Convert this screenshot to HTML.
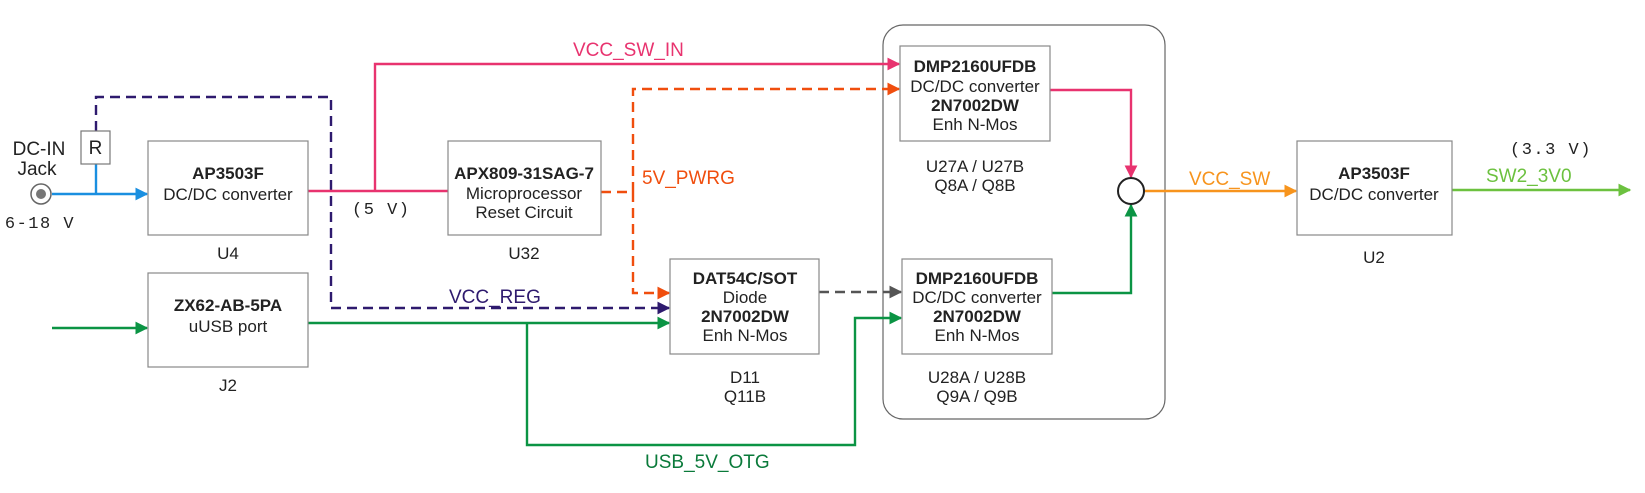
<!DOCTYPE html>
<html><head><meta charset="utf-8"><style>
html,body{margin:0;padding:0;background:#fff;}
svg{display:block;font-family:"Liberation Sans",sans-serif;}
.b{font-weight:bold;}
text{font-size:17px;fill:#222;}
.m{font-family:"Liberation Mono",monospace;font-size:17px;letter-spacing:1.5px;}
.l{font-size:19px;}
</style></head><body>
<svg width="1645" height="493" viewBox="0 0 1645 493" xmlns="http://www.w3.org/2000/svg">
<defs>
<marker id="ab" viewBox="0 0 10 10" refX="9" refY="5" markerWidth="13" markerHeight="13" markerUnits="userSpaceOnUse" orient="auto"><path d="M0,0L10,5L0,10z" fill="#1a8fe0"/></marker>
<marker id="ag" viewBox="0 0 10 10" refX="9" refY="5" markerWidth="13" markerHeight="13" markerUnits="userSpaceOnUse" orient="auto"><path d="M0,0L10,5L0,10z" fill="#0b9444"/></marker>
<marker id="ap" viewBox="0 0 10 10" refX="9" refY="5" markerWidth="13" markerHeight="13" markerUnits="userSpaceOnUse" orient="auto"><path d="M0,0L10,5L0,10z" fill="#e8336f"/></marker>
<marker id="ao" viewBox="0 0 10 10" refX="9" refY="5" markerWidth="13" markerHeight="13" markerUnits="userSpaceOnUse" orient="auto"><path d="M0,0L10,5L0,10z" fill="#f04e0e"/></marker>
<marker id="av" viewBox="0 0 10 10" refX="9" refY="5" markerWidth="13" markerHeight="13" markerUnits="userSpaceOnUse" orient="auto"><path d="M0,0L10,5L0,10z" fill="#2e1a6e"/></marker>
<marker id="ay" viewBox="0 0 10 10" refX="9" refY="5" markerWidth="13" markerHeight="13" markerUnits="userSpaceOnUse" orient="auto"><path d="M0,0L10,5L0,10z" fill="#555"/></marker>
<marker id="aw" viewBox="0 0 10 10" refX="9" refY="5" markerWidth="13" markerHeight="13" markerUnits="userSpaceOnUse" orient="auto"><path d="M0,0L10,5L0,10z" fill="#f7941d"/></marker>
<marker id="al" viewBox="0 0 10 10" refX="9" refY="5" markerWidth="13" markerHeight="13" markerUnits="userSpaceOnUse" orient="auto"><path d="M0,0L10,5L0,10z" fill="#6cc13f"/></marker>
</defs>

<rect x="883" y="25" width="282" height="394" rx="20" fill="none" stroke="#666" stroke-width="1.2"/>

<g fill="none" stroke-width="2.4">
<path d="M52,194H147" stroke="#1a8fe0" marker-end="url(#ab)"/>
<path d="M96,194V164" stroke="#1a8fe0"/>
<path d="M96,131V97H331V308H669" stroke="#2e1a6e" stroke-dasharray="10,6" marker-end="url(#av)"/>
<path d="M52,328H147" stroke="#0b9444" marker-end="url(#ag)"/>
<path d="M308,323H669" stroke="#0b9444" marker-end="url(#ag)"/>
<path d="M527,323V445H855V318H901" stroke="#0b9444" marker-end="url(#ag)"/>
<path d="M308,191H448" stroke="#e8336f"/>
<path d="M375,191V64H899" stroke="#e8336f" marker-end="url(#ap)"/>
<path d="M601,192H633V89H899" stroke="#f04e0e" stroke-dasharray="10,6" marker-end="url(#ao)"/>
<path d="M633,192V293H669" stroke="#f04e0e" stroke-dasharray="10,6" marker-end="url(#ao)"/>
<path d="M819,292H901" stroke="#555" stroke-dasharray="10,6" marker-end="url(#ay)"/>
<path d="M1050,90H1131V177" stroke="#e8336f" marker-end="url(#ap)"/>
<path d="M1052,293H1131V205" stroke="#0b9444" marker-end="url(#ag)"/>
<path d="M1144,191H1296" stroke="#f7941d" marker-end="url(#aw)"/>
<path d="M1452,190H1630" stroke="#6cc13f" marker-end="url(#al)"/>
</g>

<circle cx="41" cy="194" r="10" fill="#fff" stroke="#666" stroke-width="1.5"/>
<circle cx="41" cy="194" r="5" fill="#777"/>
<text x="39" y="155" text-anchor="middle" class="l">DC-IN</text>
<text x="37" y="175" text-anchor="middle" class="l">Jack</text>
<text x="40" y="228" text-anchor="middle" class="m">6-18 V</text>
<rect x="81" y="131" width="29" height="33" fill="#fff" stroke="#777" stroke-width="1.2"/>
<text x="95.5" y="154" text-anchor="middle" class="l">R</text>

<circle cx="1131" cy="191" r="13" fill="#fff" stroke="#222" stroke-width="2"/>

<g fill="#fff" stroke="#888" stroke-width="1.2">
<rect x="148" y="141" width="160" height="94"/>
<rect x="148" y="273" width="160" height="94"/>
<rect x="448" y="141" width="153" height="94"/>
<rect x="670" y="259" width="149" height="95"/>
<rect x="900" y="46" width="150" height="95"/>
<rect x="902" y="259" width="150" height="95"/>
<rect x="1297" y="141" width="155" height="94"/>
</g>

<g text-anchor="middle">
<text x="228" y="179" class="b">AP3503F</text>
<text x="228" y="200">DC/DC converter</text>
<text x="228" y="259">U4</text>
<text x="228" y="311" class="b">ZX62-AB-5PA</text>
<text x="228" y="332">uUSB port</text>
<text x="228" y="391">J2</text>
<text x="524" y="179" class="b">APX809-31SAG-7</text>
<text x="524" y="199">Microprocessor</text>
<text x="524" y="218">Reset Circuit</text>
<text x="524" y="259">U32</text>
<text x="745" y="284" class="b">DAT54C/SOT</text>
<text x="745" y="303">Diode</text>
<text x="745" y="322" class="b">2N7002DW</text>
<text x="745" y="341">Enh N-Mos</text>
<text x="745" y="383">D11</text>
<text x="745" y="402">Q11B</text>
<text x="975" y="72" class="b">DMP2160UFDB</text>
<text x="975" y="92">DC/DC converter</text>
<text x="975" y="111" class="b">2N7002DW</text>
<text x="975" y="130">Enh N-Mos</text>
<text x="975" y="172">U27A / U27B</text>
<text x="975" y="191">Q8A / Q8B</text>
<text x="977" y="284" class="b">DMP2160UFDB</text>
<text x="977" y="303">DC/DC converter</text>
<text x="977" y="322" class="b">2N7002DW</text>
<text x="977" y="341">Enh N-Mos</text>
<text x="977" y="383">U28A / U28B</text>
<text x="977" y="402">Q9A / Q9B</text>
<text x="1374" y="179" class="b">AP3503F</text>
<text x="1374" y="200">DC/DC converter</text>
<text x="1374" y="263">U2</text>
</g>

<text x="352" y="214" class="m">(5 V)</text>
<text x="1510" y="154" class="m">(3.3 V)</text>
<text x="573" y="56" class="l" style="fill:#e8336f">VCC_SW_IN</text>
<text x="642" y="184" class="l" style="fill:#f04e0e">5V_PWRG</text>
<text x="449" y="303" class="l" style="fill:#2e1a6e">VCC_REG</text>
<text x="645" y="468" class="l" style="fill:#0a7a3a">USB_5V_OTG</text>
<text x="1189" y="185" class="l" style="fill:#f7941d">VCC_SW</text>
<text x="1486" y="182" class="l" style="fill:#6cc13f">SW2_3V0</text>
</svg>
</body></html>
